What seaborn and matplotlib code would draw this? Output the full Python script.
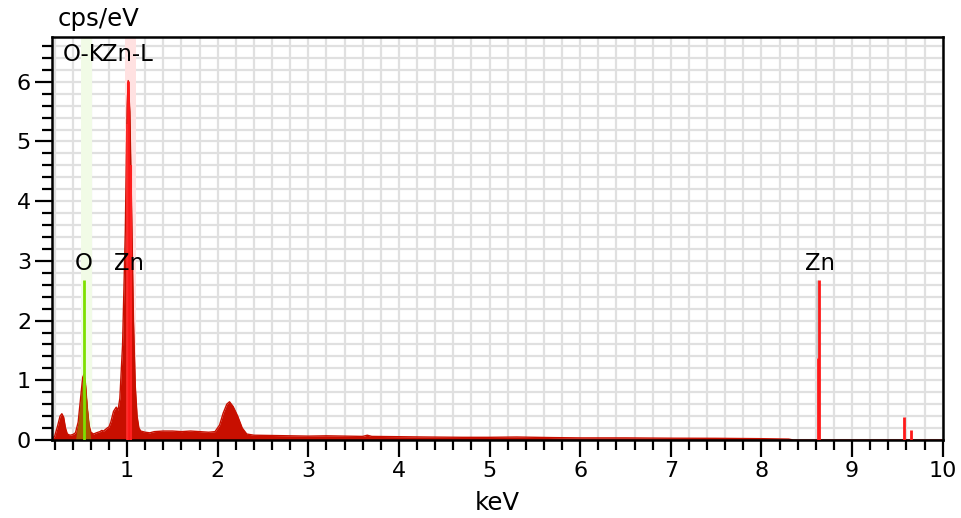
import numpy as np
import pandas as pd
import matplotlib
matplotlib.use("Agg")
import matplotlib.pyplot as plt
import seaborn as sns
from matplotlib.ticker import MultipleLocator

# ---- data ----
energy_kev = [0.17, 0.20, 0.23, 0.26, 0.28, 0.30, 0.32, 0.34, 0.37, 0.40, 0.43, 0.46,
              0.49, 0.51, 0.525, 0.54, 0.56, 0.58, 0.60, 0.63, 0.66, 0.70, 0.72, 0.74,
              0.78, 0.80, 0.82, 0.85, 0.88, 0.90, 0.92, 0.95, 0.98, 1.00, 1.012, 1.03,
              1.05, 1.07, 1.09, 1.11, 1.13, 1.15, 1.20, 1.25, 1.30, 1.40, 1.50, 1.60,
              1.70, 1.80, 1.90, 1.97, 2.02, 2.06, 2.10, 2.13, 2.17, 2.22, 2.27, 2.32,
              2.40, 2.60, 2.80, 3.00, 3.20, 3.40, 3.60, 3.65, 3.70, 4.00, 4.30, 4.70,
              5.00, 5.30, 5.50, 5.70, 6.00, 6.50, 7.00, 7.50, 8.00, 8.30, 8.35, 10.0]
counts_cps = [0.02, 0.06, 0.22, 0.40, 0.44, 0.38, 0.20, 0.10, 0.08, 0.09, 0.12, 0.30,
              0.75, 1.05, 1.10, 0.95, 0.55, 0.25, 0.13, 0.10, 0.12, 0.14, 0.16, 0.15,
              0.20, 0.22, 0.30, 0.48, 0.55, 0.50, 0.70, 1.60, 3.50, 5.60, 6.02, 5.50,
              3.80, 2.00, 0.90, 0.40, 0.20, 0.15, 0.13, 0.12, 0.14, 0.15, 0.15, 0.14,
              0.15, 0.14, 0.13, 0.14, 0.25, 0.45, 0.60, 0.64, 0.56, 0.40, 0.20, 0.10,
              0.08, 0.075, 0.07, 0.065, 0.07, 0.065, 0.06, 0.08, 0.06, 0.055, 0.05, 0.045,
              0.045, 0.05, 0.045, 0.04, 0.035, 0.035, 0.03, 0.028, 0.022, 0.015, 0.0, 0.0]

# characteristic line markers
line_names = ["O", "Zn", "Zn"]
line_kev = [0.525, 1.012, 8.635]
line_heights = [2.68, 6.02, 2.68]
line_colors = ["#7fe000", "#ff1a1a", "#ff1a1a"]
label_kev = [0.525, 1.02, 8.65]

# small extra lines (Zn K-beta region)
extra_kev = [8.62, 9.572, 9.65]
extra_heights = [1.38, 0.39, 0.16]

# element ROI bands
band_labels = ["O-K", "Zn-L"]
band_lo = [0.493, 0.979]
band_hi = [0.611, 1.100]
band_colors = ["#f1fbe6", "#ffe1e1"]

x_ticks = [1, 2, 3, 4, 5, 6, 7, 8, 9, 10]
y_ticks = [0, 1, 2, 3, 4, 5, 6]

df = pd.DataFrame({"keV": energy_kev, "cps": counts_cps})

sns.set_style("white")
plt.rcParams['font.family'] = ['DejaVu Sans']
plt.rcParams['text.color'] = 'black'
plt.rcParams['xtick.color'] = 'black'
plt.rcParams['ytick.color'] = 'black'
plt.rcParams['xtick.labelcolor'] = 'black'
plt.rcParams['ytick.labelcolor'] = 'black'

fig = plt.figure(figsize=(9.61, 5.18), dpi=100)
ax = fig.add_axes([0.054, 0.1506, 0.927, 0.778])

ax.set_xlim(0.17, 10.0)
ax.set_ylim(0, 6.75)

# grid
ax.xaxis.set_minor_locator(MultipleLocator(0.2))
ax.yaxis.set_minor_locator(MultipleLocator(0.2))
ax.set_xticks(x_ticks)
ax.set_yticks(y_ticks)
ax.grid(which="both", color="#e0e0e0", linewidth=1.6, zorder=0)
ax.set_axisbelow(True)

# ROI bands
for lo, hi, c in zip(band_lo, band_hi, band_colors):
    ax.axvspan(lo, hi, color=c, zorder=1, lw=0)

# spectrum fill
ax.fill_between(df["keV"], 0, df["cps"], color="#c80f00", lw=0, zorder=2)
sns.lineplot(data=df, x="keV", y="cps", ax=ax, color="#c80f00", lw=1.0, zorder=2)
# oxygen overlap region (olive)
mask = (df["keV"] >= 0.46) & (df["keV"] <= 0.58)
ax.fill_between(df["keV"], 0, df["cps"], where=mask, interpolate=True,
                color="#a85a00", lw=0, zorder=2.5)

# characteristic lines
for k, h, c in zip(line_kev, line_heights, line_colors):
    ax.vlines(k, 0, h, color=c, lw=2.0, zorder=3)
ax.vlines(extra_kev[0] - 0.005, extra_heights[0], line_heights[2], color="#c8c8c8", lw=2.0, zorder=2.9)
for k, h in zip(extra_kev, extra_heights):
    ax.vlines(k, 0, h, color="#ff1a1a", lw=2.0, zorder=3)
ax.vlines(0.995, 0, 5.3, color="#ff3030", lw=1.2, zorder=3)
ax.vlines(1.04, 0, 4.6, color="#ff2020", lw=1.5, zorder=3)

# labels
for name, k in zip(line_names, label_kev):
    ax.text(k, 2.96, name, ha="center", va="center", fontsize=16.4, color="black", zorder=5)
ax.text(0.294, 6.45, band_labels[0], ha="left", va="center", fontsize=16.4, zorder=5)
ax.text(1.288, 6.45, band_labels[1], ha="right", va="center", fontsize=16.4, zorder=5)

# spines & ticks
for s in ax.spines.values():
    s.set_visible(True)
    s.set_color("black")
    s.set_linewidth(1.8)
ax.tick_params(which="major", direction="out", length=12, width=1.6, labelsize=16,
               color="black", labelcolor="black", bottom=True, left=True, pad=3)
ax.tick_params(which="minor", direction="out", length=7, width=1.6, color="black",
               bottom=True, left=True)
ax.set_xlabel("")
ax.set_ylabel("")

fig.text(0.0604, 0.963, "cps/eV", fontsize=17.6, ha="left", va="center")
fig.text(0.517, 0.029, "keV", fontsize=17.6, ha="center", va="center")

fig.savefig("out.png", dpi=100)
